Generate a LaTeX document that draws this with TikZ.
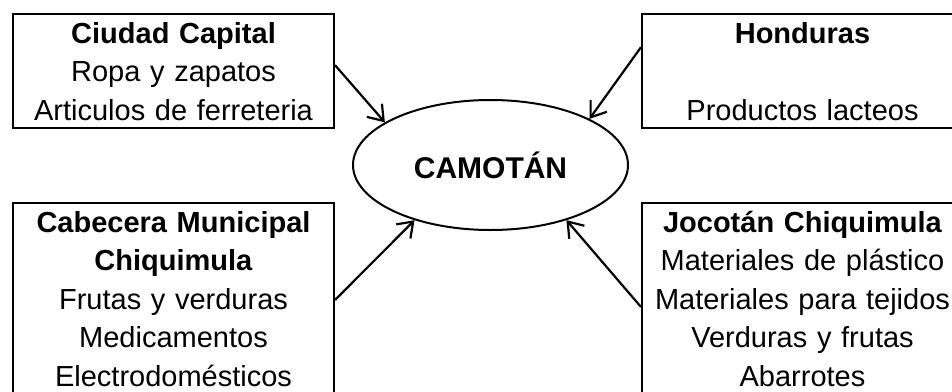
\documentclass[tikz,border=0pt]{standalone}
\usepackage{fontspec}
\setmainfont{Liberation Sans}
\usetikzlibrary{arrows.meta}
\usetikzlibrary{shapes.geometric}
\tikzset{
    block/.style={
           rectangle,
           draw=black, line width=1pt,
           anchor=north west,
           text width=154.5pt,
           inner xsep=3pt,
           inner ysep=4pt,
           align=center,
           font=\fontsize{14.5}{19.25}\selectfont,
           },
    hub/.style={
           ellipse,
           draw=black, line width=1pt,
           minimum width=137.5pt,
           minimum height=65pt,
           inner sep=0pt,
           font=\fontsize{15}{18}\selectfont\bfseries,
           },
    flow/.style={
           -{Straight Barb[length=7pt,width=10pt]},
           line width=1.1pt,
           },
}
\begin{document}
\begin{tikzpicture}[x=0.5pt, y=-0.5pt]
	\useasboundingbox (0,0) rectangle (952,391);

	\node[hub] (camotan) at (490.5,165) {CAMOTÁN};

	\node[block, minimum height=56pt] (capital) at (12,13) {
		\textbf{Ciudad Capital}\\
		Ropa y zapatos\\
		Articulos de ferreteria
	};

	\node[block, minimum height=56pt] (honduras) at (641,13) {
		\textbf{Honduras}\\
		~\\
		Productos lacteos
	};

	\node[block] (cabecera) at (12,202) {
		\textbf{Cabecera Municipal}\\
		\textbf{Chiquimula}\\
		Frutas y verduras\\
		Medicamentos\\
		Electrodomésticos
	};

	\node[block] (jocotan) at (641,202) {
		\textbf{Jocotán Chiquimula}\\
		Materiales de plástico\\
		Materiales para tejidos\\
		Verduras y frutas\\
		Abarrotes
	};

	\path[flow]	([yshift=3pt]capital.east) edge (camotan.158)
			([yshift=12pt]honduras.west) edge (camotan.25)
			([yshift=-49pt]cabecera.north east) edge (camotan.216)
			([yshift=-52.5pt]jocotan.north west) edge (camotan.324);

\end{tikzpicture}
\end{document}
